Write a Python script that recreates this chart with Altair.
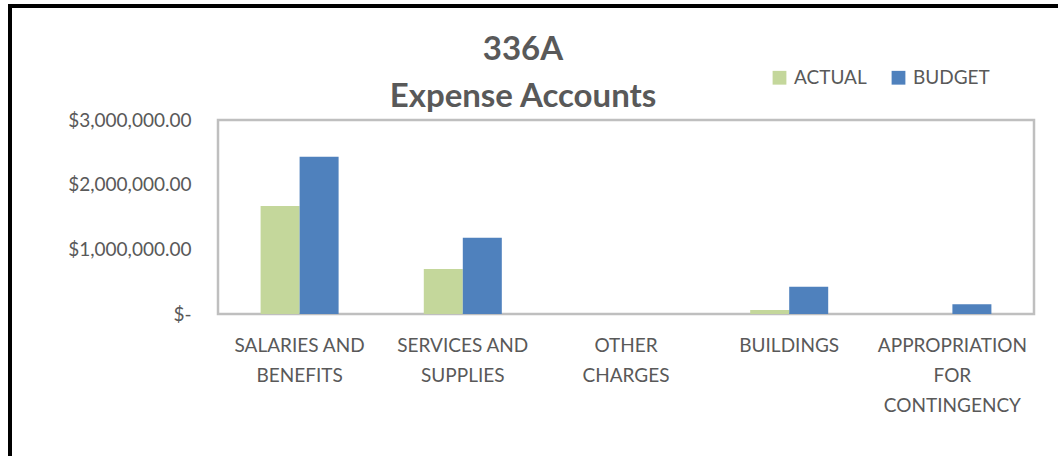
import altair as alt
import pandas as pd

categories = ["SALARIES AND BENEFITS", "SERVICES AND SUPPLIES", "OTHER CHARGES",
              "BUILDINGS", "APPROPRIATION FOR CONTINGENCY"]
label_lines = [["SALARIES AND", "BENEFITS"], ["SERVICES AND", "SUPPLIES"],
               ["OTHER", "CHARGES"], ["BUILDINGS"], ["APPROPRIATION", "FOR", "CONTINGENCY"]]
series = ["ACTUAL", "BUDGET"]
actual = [1670000, 695000, 0, 60000, 0]
budget = [2430000, 1180000, 0, 420000, 150000]
colors = ["#C4D79B", "#4F81BD"]
y_ticks = [0, 1000000, 2000000, 3000000]
title_lines = ["336A", "Expense Accounts"]

rows = []
for c, a, b in zip(categories, actual, budget):
    rows.append({"category": c, "series": "ACTUAL", "value": a})
    rows.append({"category": c, "series": "BUDGET", "value": b})
df = pd.DataFrame(rows)

expr = "''"
for c, lines in reversed(list(zip(categories, label_lines))):
    arr = "[" + ",".join("'" + l + "'" for l in lines) + "]"
    expr = f"datum.value == '{c}' ? {arr} : ({expr})"

FONT = "Lato"
GREY = "#595959"

bars = alt.Chart(df).mark_bar().encode(
    x=alt.X("category:N", sort=categories, title=None,
            scale=alt.Scale(paddingInner=0.522, paddingOuter=0.261),
            axis=alt.Axis(labelExpr=expr, labelAngle=0, labelFontSize=19, labelFont=FONT,
                          labelColor=GREY, labelLineHeight=30, labelPadding=31,
                          ticks=False, domain=False, labelBaseline="middle")),
    xOffset=alt.XOffset("series:N", sort=series,
                        scale=alt.Scale(paddingInner=0, paddingOuter=0)),
    y=alt.Y("value:Q", title=None,
            scale=alt.Scale(domain=[0, 3000000], nice=False),
            axis=alt.Axis(values=y_ticks, grid=False, ticks=False, domain=False,
                          labelExpr="datum.value == 0 ? '$-' : format(datum.value, '$,.2f')",
                          labelFontSize=19, labelFont=FONT, labelColor=GREY, labelPadding=27)),
    color=alt.Color("series:N", sort=series,
                    scale=alt.Scale(domain=series, range=colors),
                    legend=alt.Legend(title=None, orient="none", legendX=552, legendY=-52,
                                      direction="horizontal", symbolType="square",
                                      symbolSize=190, symbolStrokeWidth=0,
                                      labelFontSize=19, labelFont=FONT, labelColor=GREY,
                                      columnPadding=22, labelOffset=5)),
)

frame = alt.Chart(pd.DataFrame({"k": [0]})).mark_rect(
    fill="white", fillOpacity=0, stroke="black", strokeWidth=4
).encode(x=alt.value(-208), x2=alt.value(860), y=alt.value(-114), y2=alt.value(360))

title1 = alt.Chart(pd.DataFrame({"t": [title_lines[0]]})).mark_text(
    font=FONT, fontSize=33, fontWeight="bold", color=GREY, align="center", baseline="middle"
).encode(text="t:N", x=alt.value(305), y=alt.value(-70))
title2 = alt.Chart(pd.DataFrame({"t": [title_lines[1]]})).mark_text(
    font=FONT, fontSize=33, fontWeight="bold", color=GREY, align="center", baseline="middle"
).encode(text="t:N", x=alt.value(305), y=alt.value(-23))

chart = alt.layer(frame, bars, title1, title2).properties(
    width=816, height=194,
    autosize=alt.AutoSizeParams(type="none"),
    padding={"left": 218, "top": 120, "right": 24, "bottom": 142},
    background="white",
).configure_view(stroke="#BFBFBF", strokeWidth=2.5)

chart.save("out.html", embed_options={"renderer": "svg", "actions": False})
